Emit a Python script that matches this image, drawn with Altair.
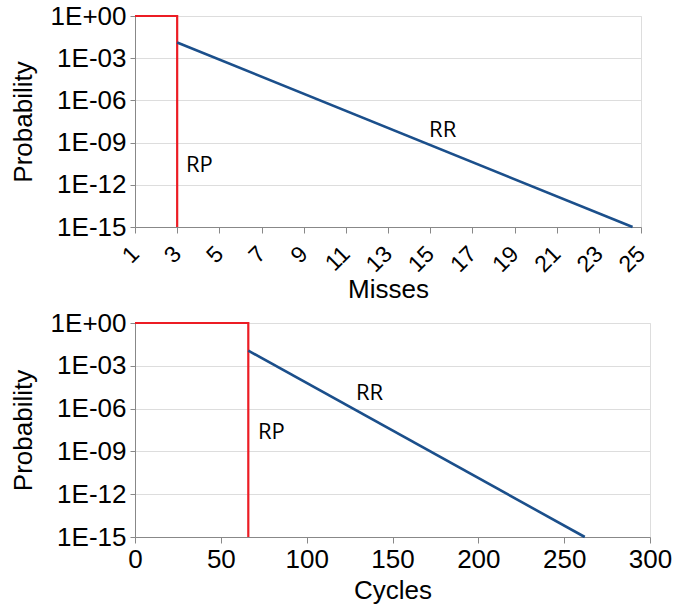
import altair as alt
import pandas as pd

# ---- data ----
# Top panel (Misses)
rp_miss_x = [1, 3, 3]
rp_miss_y = [1.0, 1.0, 1e-15]
rr_miss_x = [3, 24.6]
rr_miss_y = [1.3e-2, 1e-15]

# Bottom panel (Cycles)
rp_cyc_x = [0, 66, 66]
rp_cyc_y = [1.0, 1.0, 1e-15]
rr_cyc_x = [66, 262]
rr_cyc_y = [1.15e-2, 1e-15]

# annotation labels
lab_text = ["RR", "RP"]
lab_miss_x = [14.95, 3.42]
lab_miss_y = [8.5e-9, 2.6e-11]
lab_cyc_x = [128.7, 71.6]
lab_cyc_y = [1.15e-5, 2.3e-8]

y_ticks = [1.0, 1e-3, 1e-6, 1e-9, 1e-12, 1e-15]
miss_ticks = list(range(1, 26))
cyc_ticks = [0, 50, 100, 150, 200, 250, 300]

RED = "#ec1c24"
BLUE = "#1b4f8b"
GRID = "#b3b3b3"
LABEL_FONT = "Liberation Sans"
ANNOT_FONT = "Open Sans"

y_label_expr = ("datum.value >= 1 ? '1E+00' : '1E-' + "
                "format(round(-log(datum.value)/LN10), '02d')")


def panel(rp_x, rp_y, rr_x, rr_y, lx, ly, x_dom, x_title, x_axis, w, h):
    rp = pd.DataFrame({"x": rp_x, "y": rp_y, "i": list(range(len(rp_x)))})
    rr = pd.DataFrame({"x": rr_x, "y": rr_y, "i": list(range(len(rr_x)))})
    lab = pd.DataFrame({"x": lx, "y": ly, "t": lab_text})
    xs = alt.Scale(domain=x_dom, nice=False, zero=False)
    ys = alt.Scale(type="log", domain=[1e-15, 1], nice=False)
    yax = alt.Axis(values=y_ticks, labelExpr=y_label_expr, title="Probability",
                   grid=True, tickSize=5, labelPadding=4, labelFontSize=26,
                   titleFontSize=26, titlePadding=14, titleFontWeight="normal",
                   labelFlush=False)
    red = alt.Chart(rp).mark_line(color=RED, strokeWidth=2.2).encode(
        x=alt.X("x:Q", scale=xs, axis=x_axis, title=x_title),
        y=alt.Y("y:Q", scale=ys, axis=yax),
        order="i:Q",
    )
    blue = alt.Chart(rr).mark_line(color=BLUE, strokeWidth=2.6).encode(
        x=alt.X("x:Q", scale=xs),
        y=alt.Y("y:Q", scale=ys),
        order="i:Q",
    )
    txt = alt.Chart(lab).mark_text(align="left", baseline="middle",
                                   font=ANNOT_FONT, fontSize=22,
                                   color="black").encode(
        x=alt.X("x:Q", scale=xs),
        y=alt.Y("y:Q", scale=ys),
        text="t:N",
    )
    return alt.layer(red, blue, txt).properties(width=w, height=h)


top_axis = alt.Axis(values=miss_ticks, grid=False, labelAngle=-45,
                    labelAlign="right", labelBaseline="middle",
                    labelExpr="datum.value % 2 == 1 ? datum.label : ''",
                    labelFontSize=23, tickSize=6, labelPadding=17,
                    labelFlush=False, labelOverlap=False,
                    titleFontSize=26, titlePadding=0, titleFontWeight="normal")
bot_axis = alt.Axis(values=cyc_ticks, grid=False, labelAngle=0,
                    labelFontSize=26, tickSize=6, labelPadding=3,
                    labelFlush=False, labelOverlap=False,
                    titleFontSize=26, titlePadding=5, titleFontWeight="normal")

top = panel(rp_miss_x, rp_miss_y, rr_miss_x, rr_miss_y, lab_miss_x, lab_miss_y,
            [1, 25], "Misses", top_axis, 506, 211)
bot = panel(rp_cyc_x, rp_cyc_y, rr_cyc_x, rr_cyc_y, lab_cyc_x, lab_cyc_y,
            [0, 300], "Cycles", bot_axis, 515, 214)

chart = alt.vconcat(top, bot, spacing=5).properties(
    padding={"left": 9, "top": 2, "right": 0, "bottom": 0}
).configure_view(stroke=GRID, strokeWidth=1).configure_axis(
    labelFont=LABEL_FONT, titleFont=LABEL_FONT, labelColor="black",
    titleColor="black", titleFontWeight="normal", gridColor=GRID,
    domainColor=GRID, tickColor=GRID, gridWidth=1.5, domainWidth=1.5,
    tickWidth=1.5,
).configure(background="white")

chart.save("out.html", embed_options={"renderer": "svg", "actions": False})
